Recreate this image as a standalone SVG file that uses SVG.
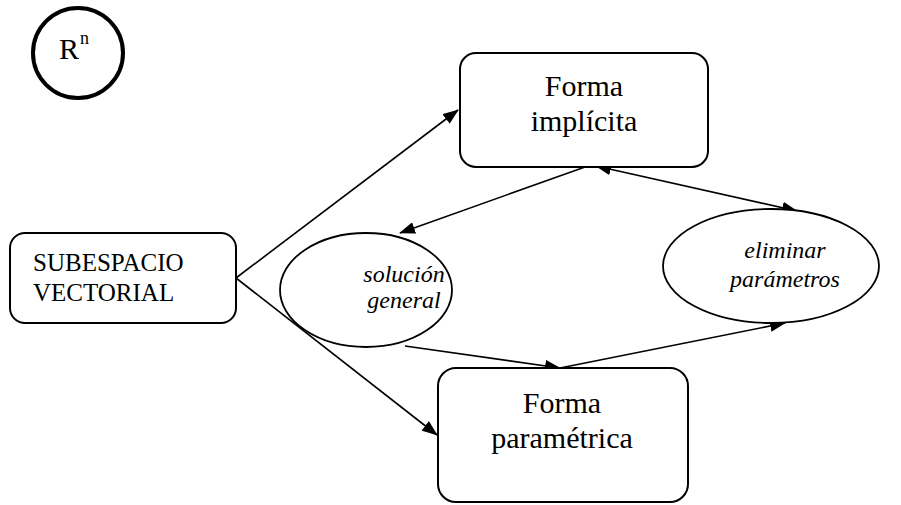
<svg xmlns="http://www.w3.org/2000/svg" width="901" height="505" viewBox="0 0 901 505">
<style>
.box{fill:#fff;stroke:#000;stroke-width:2}
.ell{fill:#fff;stroke:#000;stroke-width:1.8}
.t{font-family:"Liberation Serif","Times New Roman",serif;fill:#000}
.big{font-size:30px;text-anchor:middle}
.it{font-size:24px;font-style:italic;text-anchor:middle}
.con{stroke:#000;stroke-width:1.6;fill:none;marker-end:url(#ah)}
</style>
<defs>
<marker id="ah" markerUnits="userSpaceOnUse" markerWidth="16" markerHeight="12" refX="15" refY="6" orient="auto-start-reverse" viewBox="0 0 16 12">
<path d="M0,0 L16,6 L0,12 z" fill="#000"/>
</marker>
</defs>
<rect width="901" height="505" fill="#fff"/>
<g id="rn">
<circle cx="78" cy="53" r="45" fill="#fff" stroke="#000" stroke-width="4"/>
<text class="t" x="59" y="59" font-size="30">R</text>
<text class="t" x="80" y="44" font-size="18">n</text>
</g>
<g id="connectors">
<line class="con" x1="236" y1="278" x2="458" y2="110"/>
<line class="con" x1="236" y1="278" x2="437" y2="435"/>
<line class="con" x1="585" y1="167" x2="400" y2="233"/>
<line class="con" x1="797" y1="211" x2="596" y2="166" style="marker-start:url(#ah)"/>
<line class="con" x1="405" y1="346" x2="560" y2="368"/>
<line class="con" x1="560" y1="368" x2="785" y2="323"/>
</g>
<g id="subespacio">
<rect class="box" x="10" y="233" width="226" height="90" rx="15"/>
<text class="t" x="33" y="271" font-size="25">SUBESPACIO</text>
<text class="t" x="33" y="301" font-size="25">VECTORIAL</text>
</g>
<g id="implicita">
<rect class="box" x="460" y="53" width="248" height="114" rx="16"/>
<text class="t big" x="584" y="96">Forma</text>
<text class="t big" x="584" y="131">implícita</text>
</g>
<g id="parametrica">
<rect class="box" x="438" y="368" width="250" height="134" rx="18"/>
<text class="t big" x="562" y="413">Forma</text>
<text class="t big" x="562" y="448">paramétrica</text>
</g>
<g id="solucion">
<ellipse class="ell" cx="366" cy="290" rx="86" ry="57"/>
<text class="t it" x="404" y="282">solución</text>
<text class="t it" x="404" y="308">general</text>
</g>
<g id="eliminar">
<ellipse class="ell" cx="771" cy="266" rx="108" ry="57"/>
<text class="t it" x="785" y="258">eliminar</text>
<text class="t it" x="785" y="287">parámetros</text>
</g>
</svg>
